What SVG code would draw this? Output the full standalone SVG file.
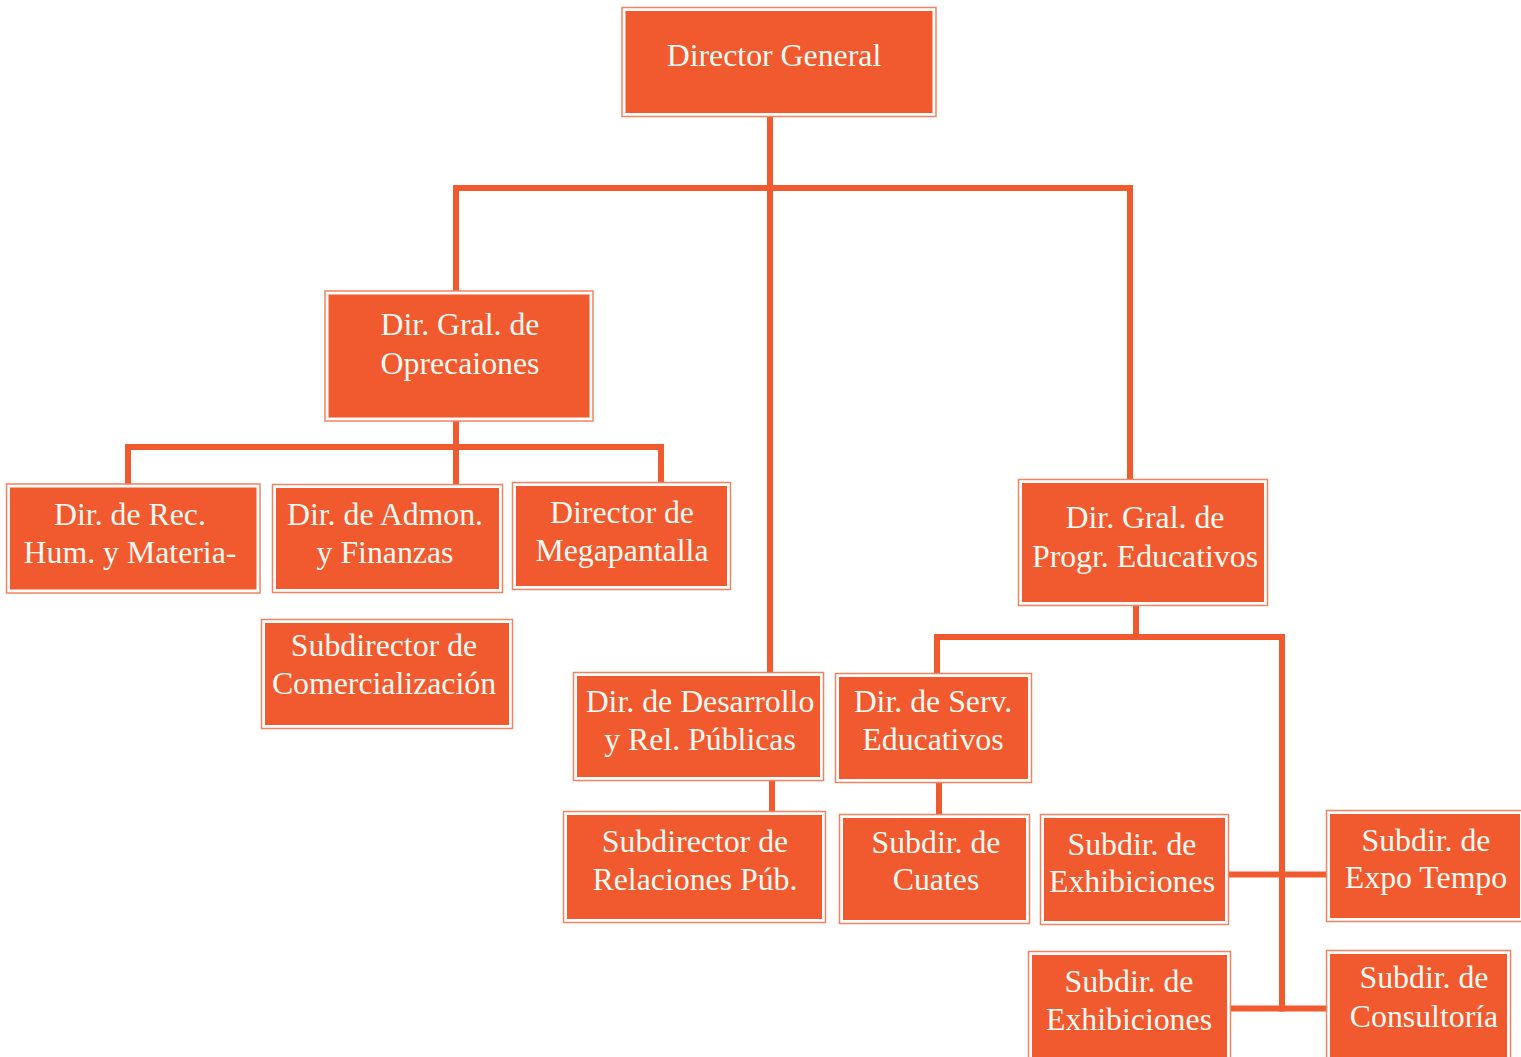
<svg xmlns="http://www.w3.org/2000/svg" width="1521" height="1057" viewBox="0 0 1521 1057">
<style>
.o{fill:#ffffff;stroke:#F3835F;stroke-width:1.5}
.i{fill:#F15A2F}
.t{font-family:"Liberation Serif","Times New Roman",serif;font-size:31.8px;fill:#FFF9F2;text-anchor:middle}
.c{fill:none;stroke:#F15A2F;stroke-width:6;stroke-linejoin:miter;stroke-linecap:butt}
</style>
<rect width="1521" height="1057" fill="#ffffff"/>
<g id="connectors">
<path class="c" d="M770,117 V672"/>
<path class="c" d="M456,291 V188 H1130 V479"/>
<path class="c" d="M456,421 V484"/>
<path class="c" d="M128,484 V447 H661 V482"/>
<path class="c" d="M1136,606 V637"/>
<path class="c" d="M937,673 V637 H1282 V1011.5"/>
<path class="c" d="M1229,874.5 H1326"/>
<path class="c" d="M1231,1008.5 H1326"/>
<path class="c" d="M772,781 V811"/>
<path class="c" d="M939,783 V814"/>
</g>
<g id="n-dg"><rect class="o" x="622" y="7.5" width="314" height="109"/><rect class="i" x="625.5" y="11" width="307" height="102"/><text class="t" x="774" y="66">Director General</text></g>
<g id="n-ops"><rect class="o" x="325" y="291" width="268" height="130"/><rect class="i" x="328.5" y="294.5" width="261" height="123"/><text class="t" x="460" y="335">Dir. Gral. de</text><text class="t" x="460" y="374">Oprecaiones</text></g>
<g id="n-rec"><rect class="o" x="6.5" y="484" width="253.5" height="109"/><rect class="i" x="10" y="487.5" width="246.5" height="102"/><text class="t" x="130" y="525">Dir. de Rec.</text><text class="t" x="130" y="563">Hum. y Materia-</text></g>
<g id="n-adm"><rect class="o" x="272.5" y="484.5" width="230" height="108"/><rect class="i" x="276" y="488" width="223" height="101"/><text class="t" x="385" y="525">Dir. de Admon.</text><text class="t" x="385" y="563">y Finanzas</text></g>
<g id="n-mega"><rect class="o" x="512.5" y="482.5" width="218" height="107"/><rect class="i" x="516" y="486" width="211" height="100"/><text class="t" x="622" y="523">Director de</text><text class="t" x="622" y="561">Megapantalla</text></g>
<g id="n-comer"><rect class="o" x="261.5" y="619.5" width="251" height="109"/><rect class="i" x="265" y="623" width="244" height="102"/><text class="t" x="384" y="656">Subdirector de</text><text class="t" x="384" y="694">Comercialización</text></g>
<g id="n-desa"><rect class="o" x="573.5" y="672.5" width="250" height="108"/><rect class="i" x="577" y="676" width="243" height="101"/><text class="t" x="700" y="712">Dir. de Desarrollo</text><text class="t" x="700" y="750">y Rel. Públicas</text></g>
<g id="n-serv"><rect class="o" x="835.5" y="673.5" width="196" height="109"/><rect class="i" x="839" y="677" width="189" height="102"/><text class="t" x="933" y="712">Dir. de Serv.</text><text class="t" x="933" y="750">Educativos</text></g>
<g id="n-relp"><rect class="o" x="563.5" y="811.5" width="262" height="111"/><rect class="i" x="567" y="815" width="255" height="104"/><text class="t" x="695" y="852">Subdirector de</text><text class="t" x="695" y="890">Relaciones Púb.</text></g>
<g id="n-cuates"><rect class="o" x="839.5" y="814.5" width="190" height="109"/><rect class="i" x="843" y="818" width="183" height="102"/><text class="t" x="936" y="853">Subdir. de</text><text class="t" x="936" y="890">Cuates</text></g>
<g id="n-prog"><rect class="o" x="1018.5" y="479.5" width="249" height="126"/><rect class="i" x="1022" y="483" width="242" height="119"/><text class="t" x="1145" y="528">Dir. Gral. de</text><text class="t" x="1145" y="567">Progr. Educativos</text></g>
<g id="n-exh1"><rect class="o" x="1040.5" y="814.5" width="188" height="110"/><rect class="i" x="1044" y="818" width="181" height="103"/><text class="t" x="1132" y="855">Subdir. de</text><text class="t" x="1132" y="892">Exhibiciones</text></g>
<g id="n-expo"><rect class="o" x="1326.5" y="810.5" width="197" height="111"/><rect class="i" x="1330" y="814" width="190" height="104"/><text class="t" x="1426" y="851">Subdir. de</text><text class="t" x="1426" y="888">Expo Tempo</text></g>
<g id="n-exh2"><rect class="o" x="1028.5" y="951.5" width="202" height="110"/><rect class="i" x="1032" y="955" width="195" height="103"/><text class="t" x="1129" y="992">Subdir. de</text><text class="t" x="1129" y="1030">Exhibiciones</text></g>
<g id="n-cons"><rect class="o" x="1326.5" y="950.5" width="184" height="110"/><rect class="i" x="1330" y="954" width="177" height="103"/><text class="t" x="1424" y="988">Subdir. de</text><text class="t" x="1424" y="1027">Consultoría</text></g>
</svg>
